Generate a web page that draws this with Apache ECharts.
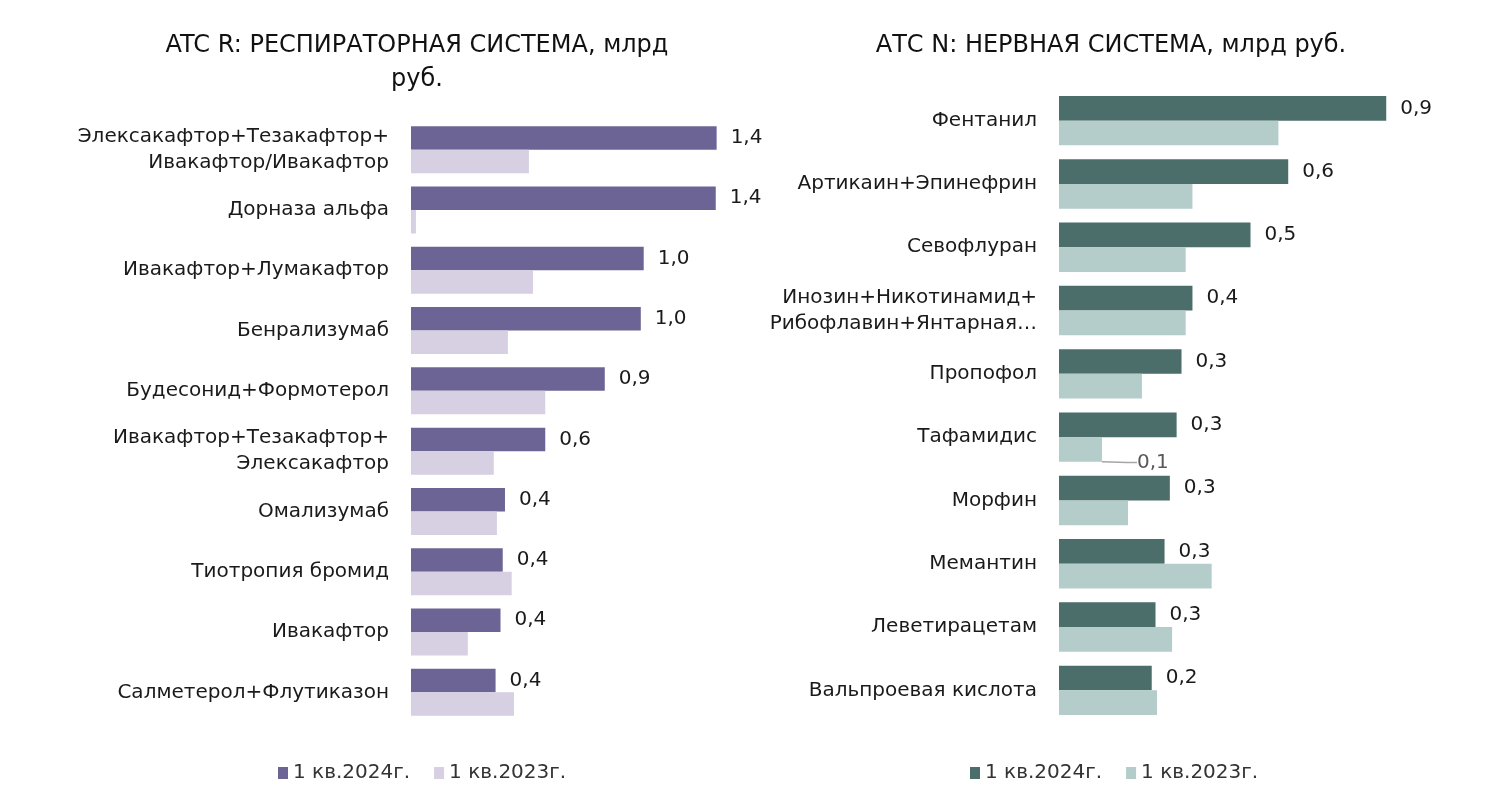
<!DOCTYPE html>
<html><head><meta charset="utf-8">
<script src="https://cdn.jsdelivr.net/npm/echarts@6/dist/echarts.min.js"></script>
<style>html,body{margin:0;padding:0;background:#fff;}.c{position:absolute;left:0;top:0;width:1506px;height:794px;}</style>
</head><body><div id="l" class="c"></div><div id="r" class="c"></div>
<script>
const seriesNames = ['1 кв.2024г.', '1 кв.2023г.'];
const respCategories = ['Элексакафтор+Тезакафтор+\nИвакафтор/Ивакафтор','Дорназа альфа','Ивакафтор+Лумакафтор','Бенрализумаб','Будесонид+Формотерол','Ивакафтор+Тезакафтор+\nЭлексакафтор','Омализумаб','Тиотропия бромид','Ивакафтор','Салметерол+Флутиказон'];
const resp2024 = [1.366, 1.362, 1.04, 1.027, 0.866, 0.60, 0.42, 0.41, 0.40, 0.378];
const resp2023 = [0.527, 0.022, 0.545, 0.433, 0.60, 0.37, 0.384, 0.45, 0.254, 0.46];
const nervCategories = ['Фентанил','Артикаин+Эпинефрин','Севофлуран','Инозин+Никотинамид+\nРибофлавин+Янтарная…','Пропофол','Тафамидис','Морфин','Мемантин','Леветирацетам','Вальпроевая кислота'];
const nerv2024 = [0.868, 0.608, 0.508, 0.354, 0.325, 0.312, 0.294, 0.28, 0.256, 0.246];
const nerv2023 = [0.582, 0.354, 0.336, 0.336, 0.22, 0.114, 0.183, 0.405, 0.30, 0.26];
const nervLabeled2023 = [5];

const FONT = '"DejaVu Sans", "Noto Sans", sans-serif';
const fmt = v => v.toFixed(1).replace('.', ',');

function build(o) {
  return {
    animation: false,
    textStyle: {fontFamily: FONT},
    graphic: [{type: 'text', x: o.titleX, y: o.titleY, style: {text: o.title, textAlign: 'center', textVerticalAlign: 'top', font: '24px ' + FONT, fill: '#111', lineHeight: 34}}],
    legend: {left: o.legendLeft, top: 758, icon: 'rect', itemWidth: 10, itemHeight: 12, itemGap: 24,
      textStyle: {fontFamily: FONT, fontSize: 20, color: '#333'}, data: seriesNames},
    grid: {left: o.gridLeft, right: o.gridRight, top: o.gridTop, bottom: o.gridBottom},
    xAxis: {type: 'value', min: 0, max: o.max, show: false},
    yAxis: {type: 'category', data: o.categories, inverse: true,
      axisLine: {show: false}, axisTick: {show: false},
      axisLabel: {fontFamily: FONT, fontSize: 20, color: '#1a1a1a', margin: 22, lineHeight: 26}},
    series: [
      {name: seriesNames[0], type: 'bar', data: o.d2024, barGap: '0%', barCategoryGap: '22%',
        itemStyle: {color: o.c1},
        label: {show: true, position: 'right', distance: 14, fontFamily: FONT, fontSize: 20, color: '#1a1a1a', formatter: p => fmt(p.value)}},
      {name: seriesNames[1], type: 'bar', barGap: '0%', barCategoryGap: '22%',
        data: o.d2023.map((v, i) => o.labeled.includes(i) ? {value: v,
          label: {show: true, position: 'right', fontFamily: FONT, fontSize: 20, color: '#595959', formatter: p => fmt(p.value)},
          labelLine: {show: true, length2: 10, lineStyle: {color: '#a6a6a6', width: 1.5}}} : v),
        itemStyle: {color: o.c2},
        labelLayout: p => o.labeled.includes(p.dataIndex) ? {dx: 30, dy: 13} : {},
        label: {show: false}}
    ]
  };
}

echarts.init(document.getElementById('l')).setOption(build({
  title: 'ATC R: РЕСПИРАТОРНАЯ СИСТЕМА, млрд\nруб.', titleX: 417, titleY: 29, legendLeft: 273,
  gridLeft: 411, gridRight: 1506 - 769, gridTop: 119.5, gridBottom: 71.5, max: 1.6,
  categories: respCategories, d2024: resp2024, d2023: resp2023, labeled: [], c1: '#6b6495', c2: '#d7cfe2'
}));
echarts.init(document.getElementById('r')).setOption(build({
  title: 'АТС N: НЕРВНАЯ СИСТЕМА, млрд руб.', titleX: 1111, titleY: 29, legendLeft: 965,
  gridLeft: 1059, gridRight: 70, gridTop: 89, gridBottom: 72, max: 1.0,
  categories: nervCategories, d2024: nerv2024, d2023: nerv2023, labeled: nervLabeled2023, c1: '#4b6e6b', c2: '#b5cdca'
}));
</script></body></html>
